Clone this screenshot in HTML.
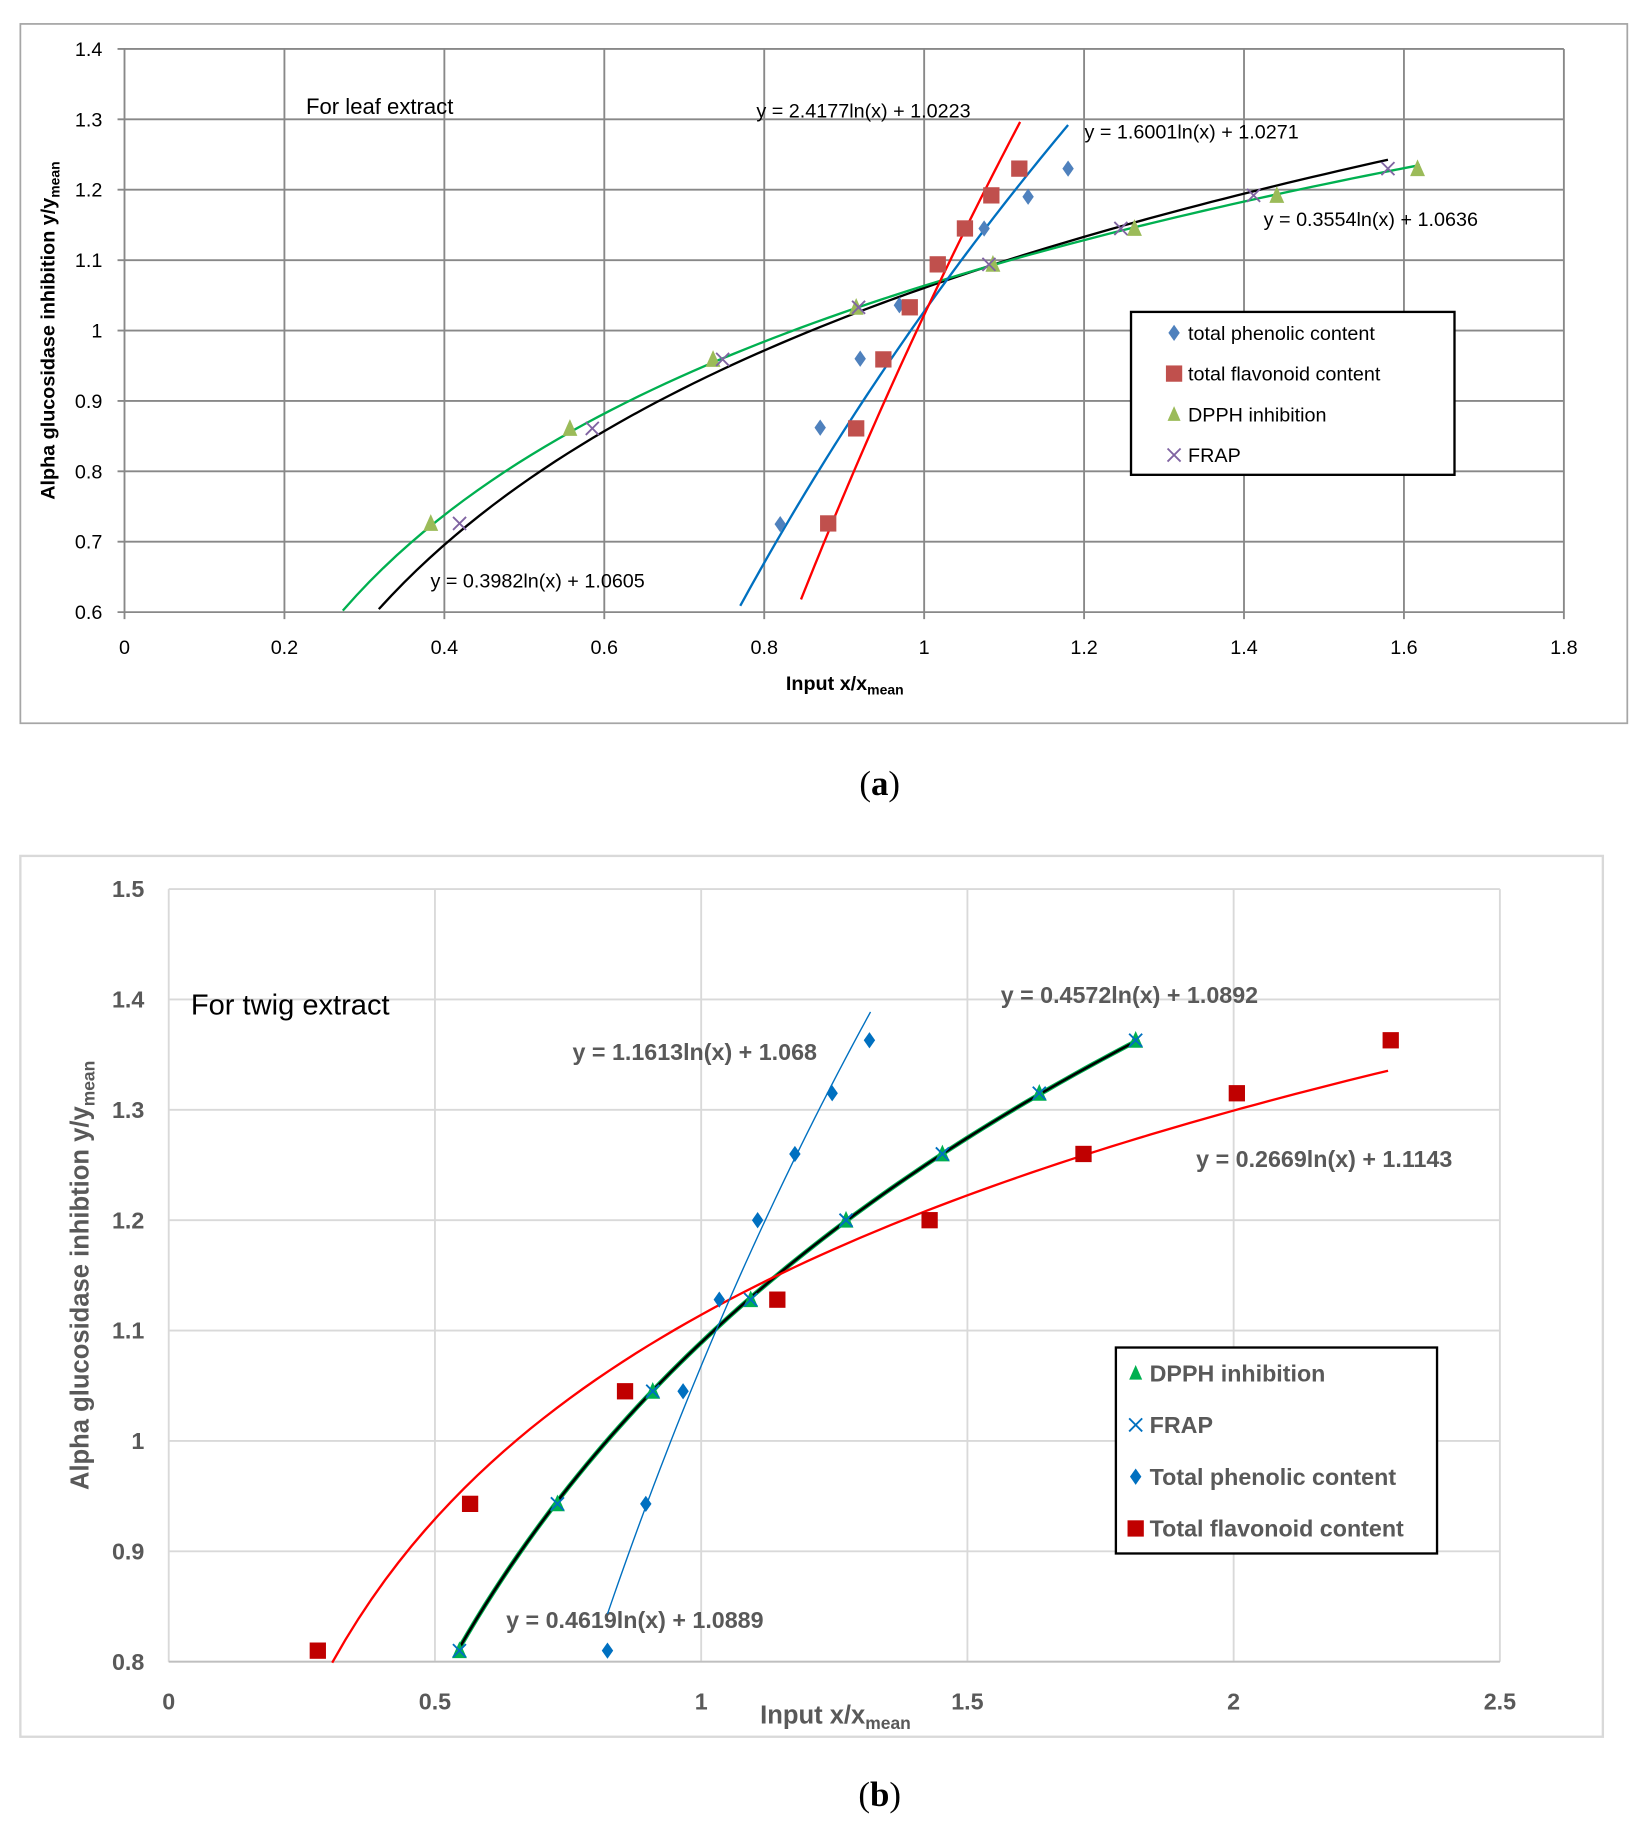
<!DOCTYPE html>
<html><head><meta charset="utf-8"><style>
html,body{margin:0;padding:0;background:#fff}
svg{display:block}
text{font-family:"Liberation Sans",sans-serif}
</style></head><body>
<svg id="fig" width="1643" height="1827" viewBox="0 0 1412 1570" xmlns="http://www.w3.org/2000/svg">
<g id="ga"></g>
<g id="gb"></g>
<text x="756" y="683" font-size="30" text-anchor="middle" style="font-family:'Liberation Serif',serif">(<tspan font-weight="bold">a</tspan>)</text>
<text x="756" y="1552" font-size="30" text-anchor="middle" style="font-family:'Liberation Serif',serif">(<tspan font-weight="bold">b</tspan>)</text>
</svg>
<script>
const NS="http://www.w3.org/2000/svg";
// ---- Chart A data ----
const aPhenX=[0.82,0.87,0.92,0.969,1.075,1.13,1.18];
const aPhenY=[0.725,0.862,0.96,1.036,1.145,1.19,1.23];
const aFlavX=[0.88,0.915,0.949,0.982,1.017,1.051,1.084,1.119];
const aFlavY=[0.726,0.861,0.959,1.033,1.094,1.145,1.192,1.23];
const aDpphX=[0.383,0.557,0.736,0.915,1.086,1.263,1.441,1.617];
const aDpphY=[0.726,0.861,0.959,1.033,1.094,1.145,1.192,1.23];
const aFrapX=[0.419,0.585,0.748,0.918,1.081,1.246,1.412,1.58];
const aFrapY=[0.726,0.861,0.959,1.033,1.094,1.145,1.192,1.23];
const aXTicks=["0","0.2","0.4","0.6","0.8","1","1.2","1.4","1.6","1.8"];
const aYTicks=["0.6","0.7","0.8","0.9","1","1.1","1.2","1.3","1.4"];
// trendlines: [a, b, xmin, xmax]
const aFitFlav=[2.4177,1.0223,0.846,1.12];
const aFitPhen=[1.6001,1.0271,0.77,1.18];
const aFitFrap=[0.3982,1.0605,0.318,1.58];
const aFitDpph=[0.3554,1.0636,0.273,1.62];
// ---- Chart B data ----
const bDpphX=[0.546,0.73,0.909,1.093,1.272,1.453,1.635,1.816];
const bDpphY=[0.81,0.943,1.045,1.128,1.2,1.26,1.315,1.363];
const bFrapX=[0.546,0.73,0.909,1.093,1.272,1.453,1.635,1.816];
const bFrapY=[0.81,0.943,1.045,1.128,1.2,1.26,1.315,1.363];
const bPhenX=[0.824,0.896,0.966,1.034,1.106,1.176,1.246,1.316];
const bPhenY=[0.81,0.943,1.045,1.128,1.2,1.26,1.315,1.363];
const bFlavX=[0.28,0.566,0.857,1.143,1.429,1.718,2.006,2.295];
const bFlavY=[0.81,0.943,1.045,1.128,1.2,1.26,1.315,1.363];
const bXTicks=["0","0.5","1","1.5","2","2.5"];
const bYTicks=["0.8","0.9","1","1.1","1.2","1.3","1.4","1.5"];
const bFitFlav=[0.2669,1.1143,0.307,2.29];
const bFitDpph=[0.4572,1.0892,0.546,1.816];
const bFitPhen=[1.1613,1.068,0.824,1.318];

function el(parent,tag,attrs,txt){const e=document.createElementNS(NS,tag);for(const k in attrs)e.setAttribute(k,attrs[k]);if(txt!==undefined)e.textContent=txt;parent.appendChild(e);return e;}
function marker(g,type,x,y,s,color){
  let e;
  if(type==="diamond") e=el(g,"polygon",{points:`${x},${y-s} ${x+s*0.7},${y} ${x},${y+s} ${x-s*0.7},${y}`,fill:color});
  else if(type==="square") e=el(g,"rect",{x:x-s,y:y-s,width:2*s,height:2*s,fill:color});
  else if(type==="tri") e=el(g,"polygon",{points:`${x},${y-s} ${x+s*0.8},${y+s*0.8} ${x-s*0.8},${y+s*0.8}`,fill:color});
  else e=el(g,"path",{d:`M${x-s*0.8},${y-s*0.8}L${x+s*0.8},${y+s*0.8}M${x+s*0.8},${y-s*0.8}L${x-s*0.8},${y+s*0.8}`,stroke:color,"stroke-width":1.6,fill:"none"});
  return e;
}
function fitPath(g,fit,sx,sy,color,w){
  let d="";for(let i=0;i<=80;i++){const x=fit[2]+(fit[3]-fit[2])*i/80;const y=fit[0]*Math.log(x)+fit[1];d+=(i?"L":"M")+sx(x).toFixed(2)+","+sy(y).toFixed(2);}
  return el(g,"path",{d,stroke:color,"stroke-width":w,fill:"none"});
}

// ===== Chart A =====
(function(){
const g=document.getElementById("ga");
const X0=107,X1=1344,Y0=526,Y1=42;
const sx=v=>X0+(X1-X0)*v/1.8, sy=v=>Y0-(Y0-Y1)*(v-0.6)/0.8;
const fr=el(g,"rect",{x:17.5,y:20.5,width:1381,height:601,fill:"#fff",stroke:"#a6a6a6","stroke-width":1.5});

aXTicks.forEach((t,i)=>{const v=parseFloat(t);const x=sx(v);
  const l=el(g,"line",{x1:x,y1:Y1,x2:x,y2:Y0+6,stroke:"#888","stroke-width":1.6});
  
  const tx=el(g,"text",{x:x,y:562,"font-size":17,"text-anchor":"middle",fill:"#000"},t);
  });
aYTicks.forEach(t=>{const v=parseFloat(t);const y=sy(v);
  const l=el(g,"line",{x1:X0-6,y1:y,x2:X1,y2:y,stroke:"#888","stroke-width":1.6});
  
  const tx=el(g,"text",{x:88,y:y+6,"font-size":17,"text-anchor":"end",fill:"#000"},t);
  });
const yt=el(g,"text",{x:0,y:0,"font-size":17,"font-weight":"bold","text-anchor":"middle",transform:"translate(47,284) rotate(-90)"});
yt.innerHTML='Alpha glucosidase inhibition y/y<tspan font-size="12" dy="4">mean</tspan>';

const xt=el(g,"text",{x:726,y:593,"font-size":17,"font-weight":"bold","text-anchor":"middle"});
xt.innerHTML='Input x/x<tspan font-size="12" dy="4">mean</tspan>';

const tl=el(g,"text",{x:263,y:98,"font-size":19},"For leaf extract");

[["y = 2.4177ln(x) + 1.0223",650,101,"eq-flavonoid"],["y = 1.6001ln(x) + 1.0271",932,119,"eq-phenolic"],["y = 0.3554ln(x) + 1.0636",1086,194,"eq-dpph"],["y = 0.3982ln(x) + 1.0605",370,505,"eq-frap"]].forEach(e=>{
  const t=el(g,"text",{x:e[1],y:e[2],"font-size":17},e[0]);});
let p;
p=fitPath(g,aFitFrap,sx,sy,"#000",2);
p=fitPath(g,aFitDpph,sx,sy,"#00b050",2);
p=fitPath(g,aFitPhen,sx,sy,"#0070c0",2);
p=fitPath(g,aFitFlav,sx,sy,"#ff0000",2);
aDpphX.forEach((x,i)=>{const m=marker(g,"tri",sx(x),sy(aDpphY[i]),8,"#9bbb59");});
aFrapX.forEach((x,i)=>{const m=marker(g,"x",sx(x),sy(aFrapY[i]),7,"#8064a2");});
aPhenX.forEach((x,i)=>{const m=marker(g,"diamond",sx(x),sy(aPhenY[i]),7,"#4f81bd");});
aFlavX.forEach((x,i)=>{const m=marker(g,"square",sx(x),sy(aFlavY[i]),7,"#c0504d");});
const lg=el(g,"g",{});
el(lg,"rect",{x:972,y:268,width:278,height:140,fill:"#fff",stroke:"#000","stroke-width":2});
[["diamond","#4f81bd","total phenolic content"],["square","#c0504d","total flavonoid content"],["tri","#9bbb59","DPPH inhibition"],["x","#8064a2","FRAP"]].forEach((r,i)=>{
  const y=286+i*35;const e=el(lg,"g",{});
  marker(e,r[0],1009,y,7,r[1]);el(e,"text",{x:1021,y:y+6,"font-size":17},r[2]);});
})();

// ===== Chart B =====
(function(){
const g=document.getElementById("gb");
const X0=145,X1=1289,Y0=1428,Y1=764;
const sx=v=>X0+(X1-X0)*v/2.5, sy=v=>Y0-(Y0-Y1)*(v-0.8)/0.7;
const fr=el(g,"rect",{x:17.5,y:735.5,width:1360,height:757,fill:"#fff",stroke:"#d9d9d9","stroke-width":2});

bXTicks.forEach(t=>{const v=parseFloat(t);const x=sx(v);
  const l=el(g,"line",{x1:x,y1:Y1,x2:x,y2:Y0,stroke:"#d9d9d9","stroke-width":1.6});
  
  const tx=el(g,"text",{x:x,y:1469,"font-size":20,"font-weight":"bold","text-anchor":"middle",fill:"#595959"},t);
  });
bYTicks.forEach(t=>{const v=parseFloat(t);const y=sy(v);
  const l=el(g,"line",{x1:X0,y1:y,x2:X1,y2:y,stroke:"#d9d9d9","stroke-width":1.6});
  
  const tx=el(g,"text",{x:124,y:y+7,"font-size":20,"font-weight":"bold","text-anchor":"end",fill:"#595959"},t);
  });
el(g,"line",{x1:X0,y1:Y0,x2:X1,y2:Y0,stroke:"#bfbfbf","stroke-width":1.6});
const yt=el(g,"text",{x:0,y:0,"font-size":22,"font-weight":"bold","text-anchor":"middle",fill:"#595959",transform:"translate(76,1096) rotate(-90)"});
yt.innerHTML='Alpha glucosidase inhibtion y/y<tspan font-size="15" dy="5">mean</tspan>';

const xt=el(g,"text",{x:718,y:1481,"font-size":22,"font-weight":"bold","text-anchor":"middle",fill:"#595959"});
xt.innerHTML='Input x/x<tspan font-size="15" dy="5">mean</tspan>';

const tl=el(g,"text",{x:164,y:872,"font-size":25},"For twig extract");

[["y = 0.4572ln(x) + 1.0892",860,862,"eq-dpph"],["y = 1.1613ln(x) + 1.068",492,911,"eq-phenolic"],["y = 0.2669ln(x) + 1.1143",1028,1003,"eq-flavonoid"],["y = 0.4619ln(x) + 1.0889",435,1399,"eq-frap"]].forEach(e=>{
  const t=el(g,"text",{x:e[1],y:e[2],"font-size":20,"font-weight":"bold",fill:"#595959"},e[0]);});
let p;
p=fitPath(g,bFitDpph,sx,sy,"#00b050",4);
p=fitPath(g,bFitDpph,sx,sy,"#000",2.2);
p=fitPath(g,bFitFlav,sx,sy,"#ff0000",2);
p=fitPath(g,bFitPhen,sx,sy,"#0070c0",1.2);
bDpphX.forEach((x,i)=>{const m=marker(g,"tri",sx(x),sy(bDpphY[i]),8,"#00b050");});
bFrapX.forEach((x,i)=>{const m=marker(g,"x",sx(x),sy(bFrapY[i]),7,"#0070c0");});
bPhenX.forEach((x,i)=>{const m=marker(g,"diamond",sx(x),sy(bPhenY[i]),7,"#0070c0");});
bFlavX.forEach((x,i)=>{const m=marker(g,"square",sx(x),sy(bFlavY[i]),7,"#c00000");});
const lg=el(g,"g",{});
el(lg,"rect",{x:959,y:1158,width:276,height:177,fill:"#fff",stroke:"#000","stroke-width":2});
[["tri","#00b050","DPPH inhibition"],["x","#0070c0","FRAP"],["diamond","#0070c0","Total phenolic content"],["square","#c00000","Total flavonoid content"]].forEach((r,i)=>{
  const y=1180+i*44.5;const e=el(lg,"g",{});
  marker(e,r[0],976,y,7,r[1]);el(e,"text",{x:988,y:y+7,"font-size":20,"font-weight":"bold",fill:"#595959"},r[2]);});
})();
</script>
</body></html>
